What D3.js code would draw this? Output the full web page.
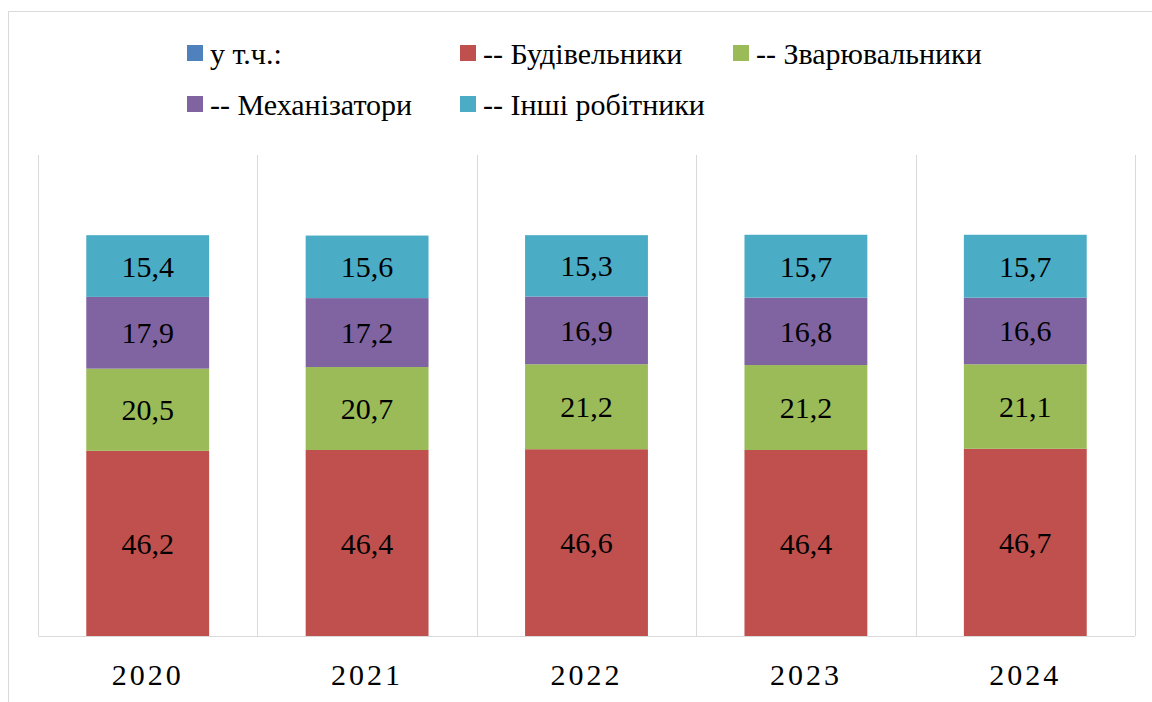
<!DOCTYPE html>
<html>
<head>
<meta charset="utf-8">
<script src="https://cdn.jsdelivr.net/npm/d3@7"></script>
<style>
  body { margin: 0; background: #fff; }
  .preload { position: absolute; left: -2000px; top: 0; font-family: 'Liberation Serif'; font-size: 30px; }
</style>
</head>
<body>
<div class="preload">у т.ч. Будівельники 2020</div>
<svg id="viz" width="1152" height="702"><text x="-100" y="-100" style="font-family:'Liberation Serif';font-size:30px"> </text></svg>
<script>
const years = ["2020", "2021", "2022", "2023", "2024"];
const seriesNames = ["у т.ч.:", "-- Будівельники", "-- Зварювальники", "-- Механізатори", "-- Інші робітники"];
const inclTotal = [0, 0, 0, 0, 0];
const builders = [46.2, 46.4, 46.6, 46.4, 46.7];
const welders = [20.5, 20.7, 21.2, 21.2, 21.1];
const machinists = [17.9, 17.2, 16.9, 16.8, 16.6];
const otherWorkers = [15.4, 15.6, 15.3, 15.7, 15.7];
const colors = ["#4F81BD", "#C0504D", "#9BBB59", "#8064A2", "#4BACC6"];

const width = 1152, height = 702;
const margin = { top: 155, right: 17, bottom: 66, left: 38 };

const svg = d3.select("#viz");

// serif text helper
function serif(sel, size) {
  return sel
    .style("font-family", "'Liberation Serif'")
    .style("font-size", size + "px")
    .attr("fill", "#000");
}

// outer chart frame (cropped on right and bottom)
svg.append("rect")
  .attr("x", 8.5).attr("y", 11.5)
  .attr("width", width).attr("height", height)
  .attr("fill", "none").attr("stroke", "#d9d9d9");

const keys = ["incl", "b", "w", "m", "o"];
const table = years.map((y, i) => ({
  year: y, incl: inclTotal[i], b: builders[i], w: welders[i], m: machinists[i], o: otherWorkers[i]
}));
const stacked = d3.stack().keys(keys)(table);

const innerW = width - margin.left - margin.right;
const innerH = height - margin.top - margin.bottom;

const x = d3.scaleBand().domain(years).range([0, innerW]).paddingInner(0.44).paddingOuter(0.22);
const y = d3.scaleLinear().domain([0, 120]).range([innerH, 0]);

const plot = svg.append("g").attr("transform", `translate(${margin.left},${margin.top})`);

// vertical category separators
const step = x.step();
plot.selectAll("line.sep")
  .data(d3.range(years.length + 1))
  .join("line")
  .attr("x1", d => Math.round(d * step) + 0.5)
  .attr("x2", d => Math.round(d * step) + 0.5)
  .attr("y1", 0).attr("y2", innerH)
  .attr("stroke", "#d9d9d9");

plot.selectAll("g.series")
  .data(stacked)
  .join("g")
  .attr("fill", (d, i) => colors[i])
  .selectAll("rect")
  .data(d => d)
  .join("rect")
  .attr("x", d => x(d.data.year))
  .attr("width", x.bandwidth())
  .attr("y", d => y(d[1]))
  .attr("height", d => y(d[0]) - y(d[1]));

// segment labels
stacked.forEach(s => {
  if (s.key === "incl") return;
  plot.selectAll(null)
    .data(s)
    .join("text")
    .attr("x", d => x(d.data.year) + x.bandwidth() / 2)
    .attr("y", d => y((d[0] + d[1]) / 2))
    .attr("dy", "0.35em")
    .attr("text-anchor", "middle")
    .call(serif, 30)
    .text(d => String(d.data[s.key]).replace(".", ","));
});

// x axis
const xAxis = plot.append("g").attr("transform", `translate(0,${innerH})`)
  .call(d3.axisBottom(x).tickSize(0).tickPadding(0));
xAxis.attr("font-family", null);
xAxis.select(".domain").attr("stroke", "#d9d9d9").attr("d", `M0.5,0.5H${innerW}`);
xAxis.selectAll("text")
  .call(serif, 30)
  .attr("letter-spacing", 3)
  .attr("y", 49)
  .attr("dy", 0);

// legend
const legendCols = [187, 460, 733];
const legendRows = [53, 104];
const legend = svg.append("g");
seriesNames.forEach((name, i) => {
  const lx = legendCols[i % 3], ly = legendRows[Math.floor(i / 3)];
  legend.append("rect")
    .attr("x", lx).attr("y", ly - 8)
    .attr("width", 16).attr("height", 16)
    .attr("fill", colors[i]);
  legend.append("text")
    .attr("x", lx + 23).attr("y", ly)
    .attr("dy", "0.35em")
    .call(serif, 30)
    .text(name);
});
</script>
</body>
</html>
